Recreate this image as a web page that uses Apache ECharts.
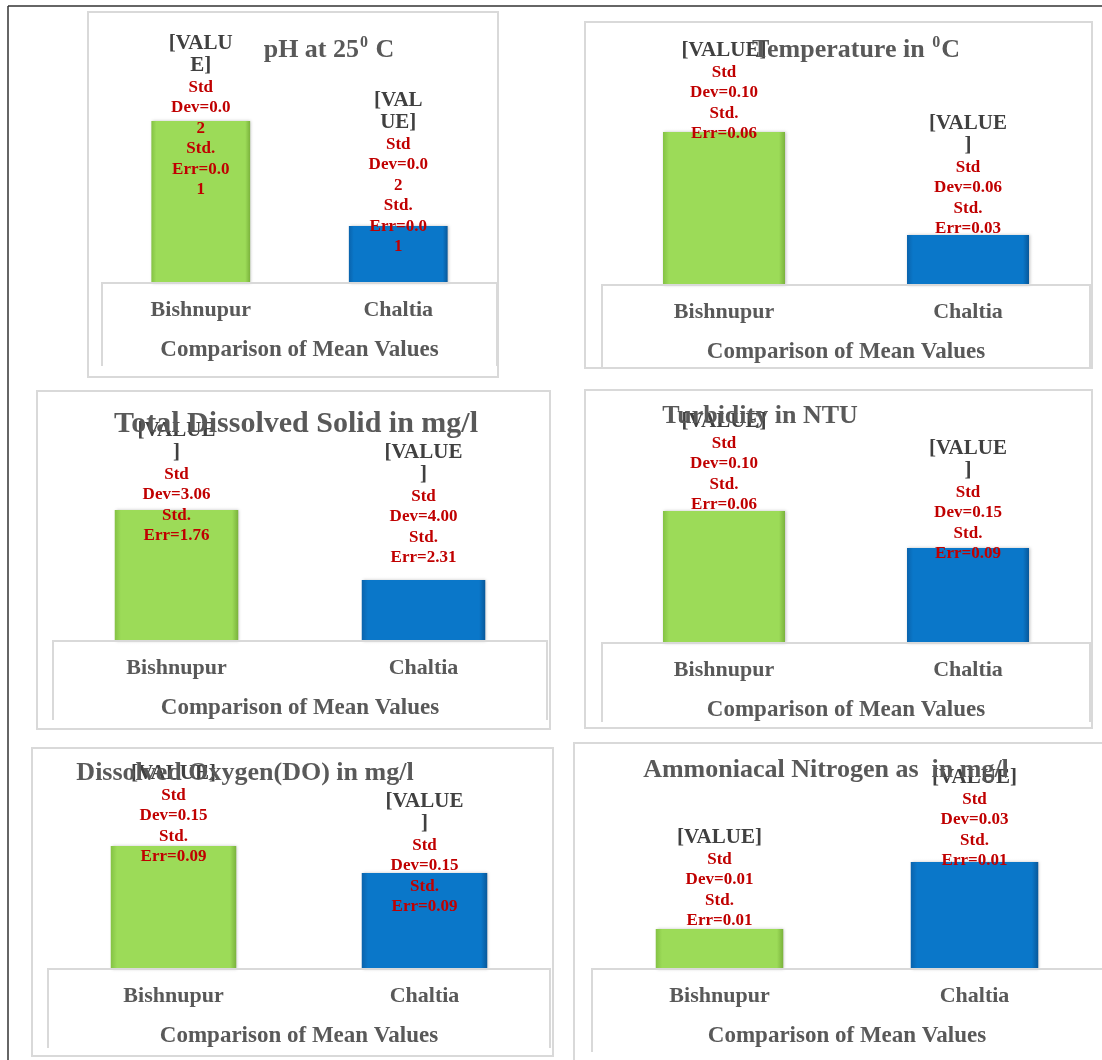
<!DOCTYPE html>
<html>
<head>
<meta charset="utf-8">
<script src="https://cdn.jsdelivr.net/npm/echarts@6/dist/echarts.min.js"></script>
<style>
html,body{margin:0;padding:0;background:#fff;}
#chart{width:1102px;height:1060px;}
</style>
</head>
<body>
<div id="chart"></div>
<script>
// ---------------- DATA ----------------
const categories = ['Bishnupur', 'Chaltia'];
const axisTitle = 'Comparison of Mean Values';
const valuePlaceholder = '[VALUE]';

// Bar heights (no value axis is shown in the source; relative heights, scale 0-100)
const phMeans   = [81, 28.5];
const tempMeans = [76.5, 25];
const tdsMeans  = [65.5, 30.5];
const turbMeans = [66, 47.5];
const doMeans   = [61.5, 48];
const nh3Means  = [20, 53.5];

const phStdDev   = ['0.02', '0.02'];
const phStdErr   = ['0.01', '0.01'];
const tempStdDev = ['0.10', '0.06'];
const tempStdErr = ['0.06', '0.03'];
const tdsStdDev  = ['3.06', '4.00'];
const tdsStdErr  = ['1.76', '2.31'];
const turbStdDev = ['0.10', '0.15'];
const turbStdErr = ['0.06', '0.09'];
const doStdDev   = ['0.15', '0.15'];
const doStdErr   = ['0.09', '0.09'];
const nh3StdDev  = ['0.01', '0.03'];
const nh3StdErr  = ['0.01', '0.01'];

// Titles: segments, 'sup' marks superscript text
const phTitle   = [['pH at 25', ''], ['0', 'sup'], [' C', '']];
const tempTitle = [['Temperature in ', ''], ['0', 'sup'], ['C', '']];
const tdsTitle  = [['Total Dissolved Solid in mg/l', '']];
const turbTitle = [['Turbidity in NTU', '']];
const doTitle   = [['Dissolved Oxygen(DO) in mg/l', '']];
const nh3Title  = [['Ammoniacal Nitrogen as  in mg/l', '']];

// ---------------- LAYOUT / STYLE ----------------
const FONT = "'Liberation Serif','Times New Roman',serif";
const panels = [
  { means: phMeans, dev: phStdDev, err: phStdErr, title: phTitle, tSize: 26, tx: 329, ty: 50,
    box: [88, 12, 410, 365], ab: [102, 497, 283, 366], vMax: [5, 4], rMax: [7, 7], dy: [79, 31] },
  { means: tempMeans, dev: tempStdDev, err: tempStdErr, title: tempTitle, tSize: 26, tx: 856, ty: 50,
    box: [585, 22, 507, 346], ab: [602, 1090, 285, 367], vMax: [7, 6], rMax: [8, 8], dy: [12, 4] },
  { means: tdsMeans, dev: tdsStdDev, err: tdsStdErr, title: tdsTitle, tSize: 30, tx: 296, ty: 424,
    box: [37, 391, 513, 338], ab: [53, 547, 641, 720], vMax: [6, 6], rMax: [8, 8], dy: [36, -12] },
  { means: turbMeans, dev: turbStdDev, err: turbStdErr, title: turbTitle, tSize: 26, tx: 760, ty: 416,
    box: [585, 390, 507, 338], ab: [602, 1090, 643, 722], vMax: [7, 6], rMax: [8, 8], dy: [4, 16] },
  { means: doMeans, dev: doStdDev, err: doStdErr, title: doTitle, tSize: 26, tx: 245, ty: 773,
    box: [32, 748, 521, 308], ab: [48, 550, 969, 1048], vMax: [7, 6], rMax: [8, 8], dy: [21, 44] },
  { means: nh3Means, dev: nh3StdDev, err: nh3StdErr, title: nh3Title, tSize: 26, tx: 826, ty: 770,
    box: [574, 743, 540, 330], ab: [592, 1108, 969, 1052], vMax: [7, 7], rMax: [8, 8], dy: [2, 9] }
];

const GRID_H = 200; // 100 units of value = 200 px

function wrapWord(word, max) {
  const out = [];
  while (word.length > max) { out.push(word.slice(0, max)); word = word.slice(max); }
  out.push(word);
  return out;
}
function wrapPara(text, max) {
  const words = text.split(' ');
  const lines = [];
  let cur = '';
  words.forEach(w => {
    if (cur === '') {
      const parts = wrapWord(w, max);
      lines.push(...parts.slice(0, -1));
      cur = parts[parts.length - 1];
    } else if ((cur + ' ' + w).length <= max) {
      cur = cur + ' ' + w;
    } else {
      lines.push(cur);
      const parts = wrapWord(w, max);
      lines.push(...parts.slice(0, -1));
      cur = parts[parts.length - 1];
    }
  });
  if (cur !== '') lines.push(cur);
  return lines;
}
function labelText(dev, err, vMax, rMax) {
  const v = wrapPara(valuePlaceholder, vMax).map(l => '{v|' + l + '}');
  const r = wrapPara('Std Dev=' + dev, rMax).concat(wrapPara('Std. Err=' + err, rMax)).map(l => '{r|' + l + '}');
  return v.concat(r).join('\n');
}

const labelRich = {
  v: { fontFamily: FONT, fontSize: 21, fontWeight: 'bold', color: '#404040', lineHeight: 22 },
  r: { fontFamily: FONT, fontSize: 17, fontWeight: 'bold', color: '#C00000', lineHeight: 20.5 }
};

const greenStyle = {
  color: { type: 'linear', x: 0, y: 0, x2: 1, y2: 0, colorStops: [
    { offset: 0, color: '#84C244' }, { offset: 0.05, color: '#9CDB58' },
    { offset: 0.95, color: '#9CDB58' }, { offset: 1, color: '#7AB23C' } ] },
  shadowColor: 'rgba(0,0,0,0.25)', shadowBlur: 3, shadowOffsetX: 1, shadowOffsetY: 0
};
const blueStyle = {
  color: { type: 'linear', x: 0, y: 0, x2: 1, y2: 0, colorStops: [
    { offset: 0, color: '#0A63AC' }, { offset: 0.05, color: '#0A77C9' },
    { offset: 0.95, color: '#0A77C9' }, { offset: 1, color: '#08589A' } ] },
  shadowColor: 'rgba(0,0,0,0.25)', shadowBlur: 3, shadowOffsetX: 1, shadowOffsetY: 0
};

const grids = [], xAxes = [], yAxes = [], series = [], graphics = [];

// outer frame lines
graphics.push({ type: 'line', z: 0, shape: { x1: 8, y1: 6, x2: 1102, y2: 6 }, style: { stroke: '#333', lineWidth: 1.5 } });
graphics.push({ type: 'line', z: 0, shape: { x1: 8, y1: 6, x2: 8, y2: 1060 }, style: { stroke: '#333', lineWidth: 1.5 } });

panels.forEach((p, i) => {
  const [l, r, base, bot] = p.ab;
  grids.push({ left: l, top: base - GRID_H, width: r - l, height: GRID_H, containLabel: false });
  xAxes.push({
    gridIndex: i, type: 'category', data: categories,
    axisLine: { show: false }, axisTick: { show: false }, splitLine: { show: false },
    axisLabel: { margin: 16, fontFamily: FONT, fontSize: 22, fontWeight: 'bold', color: '#595959' },
    name: axisTitle, nameLocation: 'middle', nameGap: 56,
    nameTextStyle: { fontFamily: FONT, fontSize: 23, fontWeight: 'bold', color: '#595959' }
  });
  yAxes.push({ gridIndex: i, type: 'value', min: 0, max: 100, show: false, splitLine: { show: false } });
  series.push({
    type: 'bar', xAxisIndex: i, yAxisIndex: i, barWidth: '50%', silent: true, z: 3,
    data: p.means.map((v, j) => ({
      value: v,
      itemStyle: j === 0 ? greenStyle : blueStyle,
      label: {
        show: true, position: 'top', distance: 0, offset: [0, p.dy[j]],
        formatter: labelText(p.dev[j], p.err[j], p.vMax[j], p.rMax[j]),
        rich: labelRich, align: 'center'
      }
    }))
  });
  // panel frame
  graphics.push({ type: 'rect', z: -10, shape: { x: p.box[0], y: p.box[1], width: p.box[2], height: p.box[3] },
    style: { fill: '#fff', stroke: '#D9D9D9', lineWidth: 2 } });
  // category axis box (top, left, right edges)
  graphics.push({ type: 'polyline', z: 10, shape: { points: [[l, bot], [l, base], [r, base], [r, bot]] },
    style: { fill: null, stroke: '#D9D9D9', lineWidth: 2 } });
  // title
  const rich = {
    n: { fontFamily: FONT, fontSize: p.tSize, fontWeight: 'bold', fill: '#595959', color: '#595959', lineHeight: p.tSize + 4 },
    s: { fontFamily: FONT, fontSize: Math.round(p.tSize * 0.62), fontWeight: 'bold', fill: '#595959', color: '#595959', verticalAlign: 'top', lineHeight: p.tSize + 4, padding: [0, 1, 0, 1] }
  };
  const txt = p.title.map(seg => '{' + (seg[1] === 'sup' ? 's' : 'n') + '|' + seg[0] + '}').join('');
  graphics.push({ type: 'text', z: 20, x: p.tx, y: p.ty,
    style: { text: txt, rich: rich, align: 'center', verticalAlign: 'middle', textAlign: 'center', textVerticalAlign: 'middle',
      font: 'bold ' + p.tSize + 'px ' + FONT, fill: '#595959' } });
});

const chart = echarts.init(document.getElementById('chart'), null, { renderer: 'canvas', width: 1102, height: 1060 });
chart.setOption({
  backgroundColor: '#fff',
  animation: false,
  grid: grids, xAxis: xAxes, yAxis: yAxes, series: series,
  graphic: { elements: graphics }
});
</script>
</body>
</html>
